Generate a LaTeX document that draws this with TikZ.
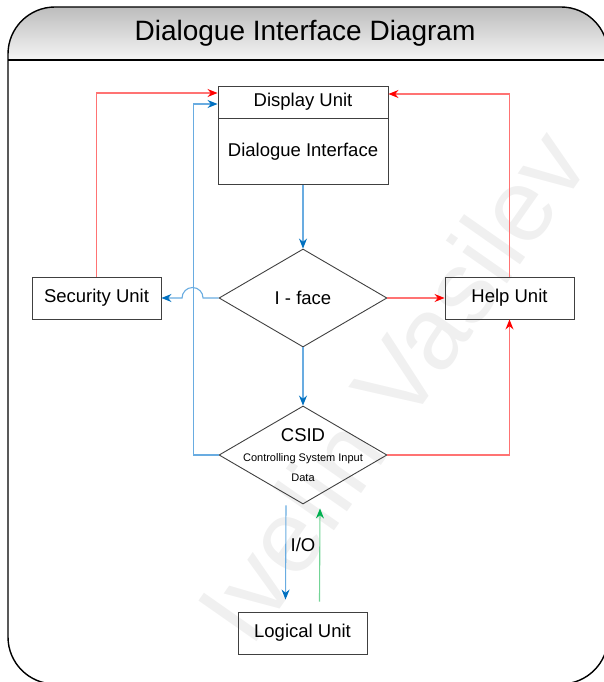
\documentclass[tikz,border=0pt]{standalone}
\usepackage{fontspec}
\setmainfont{Liberation Sans}
\usetikzlibrary{shapes.geometric,arrows.meta}

\definecolor{lnred}{RGB}{255,115,115}
\definecolor{tipred}{RGB}{255,0,0}
\definecolor{lnblue}{RGB}{105,172,225}
\definecolor{tipblue}{RGB}{0,112,192}
\definecolor{lngreen}{RGB}{115,212,150}
\definecolor{tipgreen}{RGB}{0,176,80}

\tikzset{
  unit/.style={draw=black!75, line width=0.9pt, minimum width=129pt, minimum height=42pt, font=\fontsize{18.5}{22}\selectfont},
  decision/.style={diamond, draw=black!75, line width=0.9pt, minimum width=168pt, minimum height=98pt, inner sep=0pt, font=\fontsize{18.5}{22}\selectfont},
  redarrow/.style={draw=lnred, line width=1.1pt, -{Stealth[length=10pt,width=8pt,color=tipred]}},
  bluearrow/.style={draw=lnblue, line width=1.1pt, -{Stealth[length=10pt,width=8pt,color=tipblue]}},
  greenarrow/.style={draw=lngreen, line width=1.1pt, -{Stealth[length=10pt,width=8pt,color=tipgreen]}}
}

\begin{document}
\begin{tikzpicture}[x=1pt, y=-1pt]
    \useasboundingbox (0,0) rectangle (603,682);

    % Frame and header
    \begin{scope}
        \clip[rounded corners=47pt] (8,7) rectangle (608,684);
        \shade[top color=black!26, bottom color=black!4] (8,7) rectangle (608,60);
    \end{scope}
    \draw[line width=1.4pt, rounded corners=47pt] (8,7) rectangle (608,684);
    \draw[line width=1.4pt] (8,60) -- (608,60);
    \node[font=\fontsize{28}{32}\selectfont] (title) at (305,33) {Dialogue Interface Diagram};

    % Watermark
    \node[rotate=55, text=black!6, font=\fontsize{103}{103}\selectfont] (wmark) at (392,385) {Ivelin Vasilev};

    % Display unit
    \node[unit, minimum width=170pt, minimum height=32pt] (disptop) at (303,102) {Display Unit};
    \node[unit, minimum width=170pt, minimum height=66pt, anchor=north] (dispbody) at (disptop.south) {Dialogue Interface};

    % Decisions
    \node[decision] (iface) at (303,298) {I - face};
    \node[decision] (csid) at (303,455) {};
    \node[align=center, font=\fontsize{11}{20}\selectfont] (csidtext) at (303,455)
        {{\fontsize{18.5}{14}\selectfont CSID}\\Controlling System Input\\Data};

    % Units
    \node[unit] (secu) at (96.5,298) {Security Unit};
    \node[unit] (help) at (509.5,298) {Help Unit};
    \node[unit] (logic) at (302.5,633) {Logical Unit};

    % Connectors
    \draw[bluearrow] (dispbody.south) -- (iface.north);
    \draw[bluearrow] (iface.south) -- (csid.north);
    \draw[redarrow] (iface.east) -- (help.west);
    \draw[bluearrow] (iface.west) -- ++(-15.5,0) arc[start angle=0, end angle=-180, radius=10.5] -- (secu.east);
    \draw[redarrow] (secu.north) |- ([yshift=9pt]disptop.west);
    \draw[bluearrow] (csid.west) -- ++(-25,0) |- ([yshift=-2pt]disptop.west);
    \draw[redarrow] (help.north) |- ([yshift=8pt]disptop.east);
    \draw[redarrow] (csid.east) -| (help.south);

    % I/O
    \draw[bluearrow] ([xshift=-17pt,yshift=-1pt]csid.south) -- ([xshift=-17pt,yshift=12pt]logic.north);
    \draw[greenarrow] ([xshift=17pt,yshift=10pt]logic.north) -- ([xshift=17pt,yshift=-4pt]csid.south);
    \node[font=\fontsize{18.5}{22}\selectfont] (io) at (303,545) {I/O};
\end{tikzpicture}
\end{document}
